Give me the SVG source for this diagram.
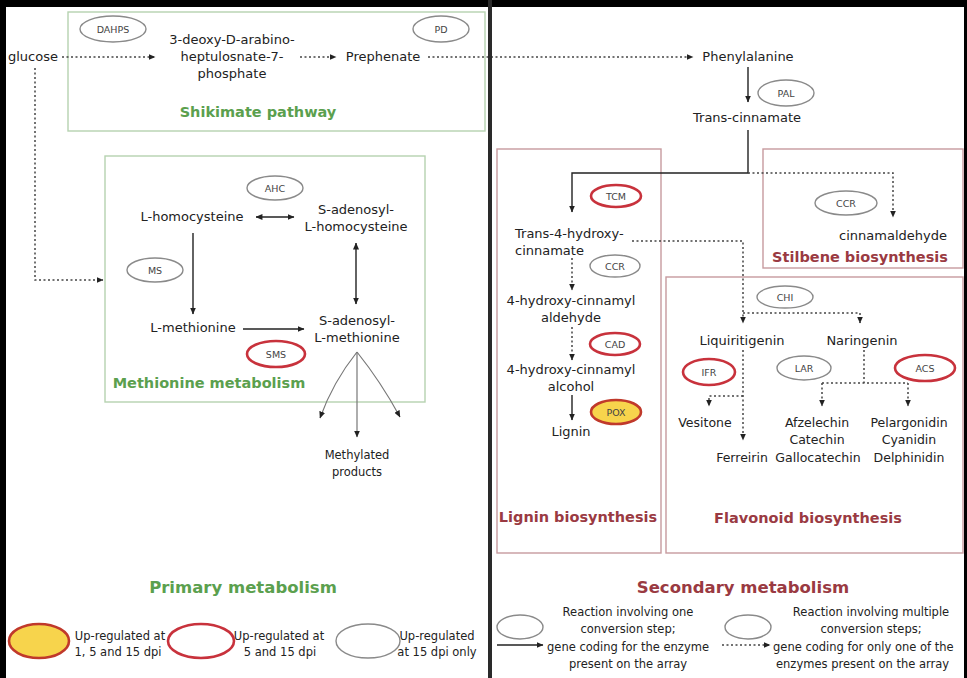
<svg xmlns="http://www.w3.org/2000/svg" width="967" height="678" viewBox="0 0 967 678">
<defs>
<marker id="ah" viewBox="0 0 8 7" refX="7.5" refY="3.5" markerWidth="7" markerHeight="6" markerUnits="userSpaceOnUse" orient="auto-start-reverse"><path d="M0,0 L8,3.5 L0,7 z" fill="#222"/></marker>
<style>
text{font-family:"DejaVu Sans","Liberation Sans",sans-serif;fill:#222;text-anchor:middle}
.t{font-size:13px}
.f{font-size:12.5px}
.e{font-size:9.5px;fill:#444}
.lg{font-size:11.5px}
.hg{font-size:14.5px;font-weight:bold;fill:#5ba04e}
.hr{font-size:14.5px;font-weight:bold;fill:#9a3a42}
.Hg{font-size:16.5px;font-weight:bold;fill:#5ba04e}
.Hr{font-size:16.5px;font-weight:bold;fill:#9a3a42}
.enz{fill:#fff;stroke:#8a8a8a;stroke-width:1.4}
.up5{fill:#fff;stroke:#c8323c;stroke-width:2.6}
.up1{fill:#f7d44c;stroke:#c0392b;stroke-width:2.6}
.boxg{fill:none;stroke:#b6d2b0;stroke-width:1.4}
.boxr{fill:none;stroke:#c79a9e;stroke-width:1.4}
.sol{fill:none;stroke:#222;stroke-width:1.4}
.dot{fill:none;stroke:#444;stroke-width:1.5;stroke-dasharray:2 2.5}
.gl{fill:none;stroke:#777;stroke-width:1.2}
</style>
</defs>
<rect x="0" y="0" width="967" height="678" fill="#fff"/>

<g id="boxes">
<rect class="boxg" x="68" y="12" width="417" height="119"/>
<rect class="boxg" x="105" y="156" width="320" height="246"/>
<rect class="boxr" x="497" y="149" width="164" height="404"/>
<rect class="boxr" x="763" y="149" width="200" height="119"/>
<rect class="boxr" x="666" y="277" width="297" height="276"/>
</g>

<g id="connectors">
<path class="dot" d="M62,57 H155" marker-end="url(#ah)"/>
<path class="dot" d="M300,57 H336" marker-end="url(#ah)"/>
<path class="dot" d="M428,57 H693" marker-end="url(#ah)"/>
<path class="dot" d="M35,68 V280 H103" marker-end="url(#ah)"/>
<path class="sol" d="M256,217 H294" marker-start="url(#ah)" marker-end="url(#ah)"/>
<path class="sol" d="M356,243 V304" marker-start="url(#ah)" marker-end="url(#ah)"/>
<path class="sol" d="M193,233 V314" marker-end="url(#ah)"/>
<path class="sol" d="M243,329 H304" marker-end="url(#ah)"/>
<path class="gl" d="M357,352 Q333,382 320,418" marker-end="url(#ah)"/>
<path class="gl" d="M357,352 V437" marker-end="url(#ah)"/>
<path class="gl" d="M357,352 Q381,382 400,417" marker-end="url(#ah)"/>
<path class="sol" d="M748,67 V102" marker-end="url(#ah)"/>
<path class="sol" d="M748,130 V173 H572 V212" marker-end="url(#ah)"/>
<path class="dot" d="M748,173 H893 V217" marker-end="url(#ah)"/>
<path class="dot" d="M572,258 V290" marker-end="url(#ah)"/>
<path class="dot" d="M572,327 V360" marker-end="url(#ah)"/>
<path class="sol" d="M572,395 V420" marker-end="url(#ah)"/>
<path class="dot" d="M632,241 H743 V323" marker-end="url(#ah)"/>
<path class="dot" d="M743,313 H860 V323" marker-end="url(#ah)"/>
<path class="dot" d="M743,350 V440" marker-end="url(#ah)"/>
<path class="dot" d="M743,396 H709 V406" marker-end="url(#ah)"/>
<path class="dot" d="M864,350 V383"/>
<path class="dot" d="M822,383 H908"/>
<path class="dot" d="M822,383 V406" marker-end="url(#ah)"/>
<path class="dot" d="M908,383 V406" marker-end="url(#ah)"/>
<path class="sol" d="M497,645 H543" marker-end="url(#ah)"/>
<path class="dot" d="M722,645 H770" marker-end="url(#ah)"/>
</g>

<g id="n-glucose"><text class="t" x="33" y="61">glucose</text></g>
<g id="n-dahps"><ellipse class="enz" cx="113" cy="29" rx="33" ry="13"/><text class="e" x="113" y="32.5">DAHPS</text></g>
<g id="n-dahp"><text class="t" x="232" y="44">3-deoxy-D-arabino-</text><text class="t" x="232" y="61">heptulosnate-7-</text><text class="t" x="232" y="78">phosphate</text></g>
<g id="n-pd"><ellipse class="enz" cx="441" cy="29" rx="28" ry="13"/><text class="e" x="441" y="32.5">PD</text></g>
<g id="n-prephenate"><text class="t" x="383" y="61">Prephenate</text></g>
<g id="n-shikimate"><text class="hg" x="258" y="117">Shikimate pathway</text></g>

<g id="n-ahc"><ellipse class="enz" cx="275" cy="188" rx="28" ry="12"/><text class="e" x="275" y="191.5">AHC</text></g>
<g id="n-lhcys"><text class="t" x="192" y="221">L-homocysteine</text></g>
<g id="n-sah"><text class="t" x="356" y="214">S-adenosyl-</text><text class="t" x="356" y="231">L-homocysteine</text></g>
<g id="n-ms"><ellipse class="enz" cx="155" cy="270" rx="28" ry="12"/><text class="e" x="155" y="273.5">MS</text></g>
<g id="n-lmet"><text class="t" x="193" y="332">L-methionine</text></g>
<g id="n-sam"><text class="t" x="357" y="325">S-adenosyl-</text><text class="t" x="357" y="342">L-methionine</text></g>
<g id="n-sms"><ellipse class="up5" cx="276" cy="354" rx="29" ry="13"/><text class="e" x="276" y="357.5">SMS</text></g>
<g id="n-methionine"><text class="hg" x="209" y="388">Methionine metabolism</text></g>
<g id="n-methylated"><text class="lg" x="357" y="459">Methylated</text><text class="lg" x="357" y="476">products</text></g>
<g id="n-primary"><text class="Hg" x="243" y="593">Primary metabolism</text></g>

<g id="legend-left">
<ellipse class="up1" cx="39" cy="641" rx="30" ry="17"/>
<text class="lg" x="120" y="640">Up-regulated at</text><text class="lg" x="118" y="656">1, 5 and 15 dpi</text>
<ellipse class="up5" cx="201" cy="641" rx="33" ry="17"/>
<text class="lg" x="279" y="640">Up-regulated at</text><text class="lg" x="280" y="656">5 and 15 dpi</text>
<ellipse class="enz" cx="368" cy="641" rx="32" ry="17"/>
<text class="lg" x="437" y="640">Up-regulated</text><text class="lg" x="437" y="656">at 15 dpi only</text>
</g>

<g id="n-phe"><text class="t" x="748" y="61">Phenylalanine</text></g>
<g id="n-pal"><ellipse class="enz" cx="786" cy="93" rx="28" ry="13"/><text class="e" x="786" y="96.5">PAL</text></g>
<g id="n-transcin"><text class="t" x="747" y="122">Trans-cinnamate</text></g>

<g id="n-ccr1"><ellipse class="enz" cx="846" cy="203" rx="31" ry="12"/><text class="e" x="846" y="206.5">CCR</text></g>
<g id="n-cinnamaldehyde"><text class="t" x="893" y="240">cinnamaldehyde</text></g>
<g id="n-stilbene"><text class="hr" x="860" y="262">Stilbene biosynthesis</text></g>

<g id="n-tcm"><ellipse class="up5" cx="616" cy="196" rx="25" ry="11"/><text class="e" x="616" y="199.5">TCM</text></g>
<g id="n-t4h"><text class="t" x="515" y="238" style="text-anchor:start">Trans-4-hydroxy-</text><text class="t" x="515" y="255" style="text-anchor:start">cinnamate</text></g>
<g id="n-ccr2"><ellipse class="enz" cx="615" cy="266" rx="25" ry="11"/><text class="e" x="615" y="269.5">CCR</text></g>
<g id="n-hcald"><text class="t" x="571" y="305">4-hydroxy-cinnamyl</text><text class="t" x="571" y="322">aldehyde</text></g>
<g id="n-cad"><ellipse class="up5" cx="615" cy="344" rx="25" ry="11"/><text class="e" x="615" y="347.5">CAD</text></g>
<g id="n-hcalc"><text class="t" x="571" y="374">4-hydroxy-cinnamyl</text><text class="t" x="571" y="391">alcohol</text></g>
<g id="n-pox"><ellipse class="up1" cx="616" cy="412" rx="25" ry="12"/><text class="e" x="616" y="415.5">POX</text></g>
<g id="n-lignin"><text class="t" x="571" y="436">Lignin</text></g>
<g id="n-ligninbio"><text class="hr" x="578" y="522">Lignin biosynthesis</text></g>

<g id="n-chi"><ellipse class="enz" cx="785" cy="297" rx="28" ry="11"/><text class="e" x="785" y="300.5">CHI</text></g>
<g id="n-liq"><text class="t" x="742" y="345">Liquiritigenin</text></g>
<g id="n-nar"><text class="t" x="862" y="345">Naringenin</text></g>
<g id="n-ifr"><ellipse class="up5" cx="709" cy="372" rx="26" ry="13"/><text class="e" x="709" y="375.5">IFR</text></g>
<g id="n-lar"><ellipse class="enz" cx="804" cy="368" rx="27" ry="12"/><text class="e" x="804" y="371.5">LAR</text></g>
<g id="n-acs"><ellipse class="up5" cx="925" cy="368" rx="30" ry="13"/><text class="e" x="925" y="371.5">ACS</text></g>
<g id="n-vesitone"><text class="f" x="705" y="427">Vesitone</text></g>
<g id="n-ferreirin"><text class="f" x="742" y="462">Ferreirin</text></g>
<g id="n-afz"><text class="f" x="817" y="427">Afzelechin</text><text class="f" x="817" y="444">Catechin</text><text class="f" x="818" y="462">Gallocatechin</text></g>
<g id="n-pel"><text class="f" x="909" y="427">Pelargonidin</text><text class="f" x="909" y="444">Cyanidin</text><text class="f" x="909" y="462">Delphinidin</text></g>
<g id="n-flavbio"><text class="hr" x="808" y="523">Flavonoid biosynthesis</text></g>
<g id="n-secondary"><text class="Hr" x="743" y="593">Secondary metabolism</text></g>

<g id="legend-right">
<ellipse class="enz" cx="520" cy="627" rx="23" ry="12"/>
<text class="lg" x="628" y="616">Reaction involving one</text>
<text class="lg" x="628" y="633">conversion step;</text>
<text class="lg" x="628" y="651">gene coding for the enzyme</text>
<text class="lg" x="628" y="668">present on the array</text>
<ellipse class="enz" cx="748" cy="627" rx="23" ry="12"/>
<text class="lg" x="871" y="616">Reaction involving multiple</text>
<text class="lg" x="871" y="633">conversion steps;</text>
<text class="lg" x="773" y="651" style="text-anchor:start">gene coding for only one of the</text>
<text class="lg" x="776" y="668" style="text-anchor:start">enzymes present on the array</text>
</g>

<g id="frame" fill="#000">
<rect x="0" y="0" width="967" height="7"/>
<rect x="0" y="0" width="6" height="678"/>
<rect x="964" y="0" width="3" height="678"/>
<rect x="488" y="0" width="4" height="678" fill="#2a2a2a"/>
</g>
</svg>
